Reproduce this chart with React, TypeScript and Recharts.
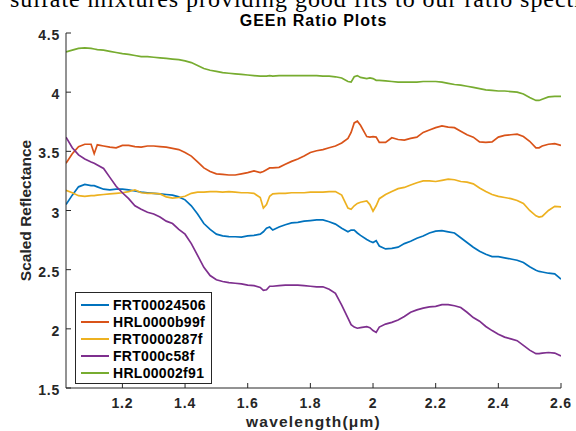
import React from "react";
import { LineChart, Line, XAxis, YAxis, Legend, Label } from "recharts";

// wavelength grid (µm); a few extra points where the spectra have narrow features
const wavelength = [
  1.02, 1.04, 1.06, 1.08, 1.1, 1.11, 1.12, 1.14, 1.16, 1.18,
  1.2, 1.22, 1.24, 1.26, 1.28, 1.3, 1.32, 1.34, 1.36, 1.38,
  1.4, 1.42, 1.44, 1.46, 1.48, 1.5, 1.52, 1.54, 1.56, 1.58,
  1.6, 1.62, 1.64, 1.65, 1.66, 1.67, 1.68, 1.7, 1.72, 1.74,
  1.76, 1.78, 1.8, 1.82, 1.84, 1.86, 1.88, 1.9, 1.92, 1.93,
  1.94, 1.95, 1.96, 1.98, 1.99, 2.0, 2.01, 2.02, 2.04, 2.06,
  2.08, 2.1, 2.12, 2.14, 2.16, 2.18, 2.2, 2.22, 2.24, 2.26,
  2.28, 2.3, 2.32, 2.34, 2.36, 2.38, 2.4, 2.42, 2.44, 2.46,
  2.48, 2.5, 2.52, 2.53, 2.54, 2.56, 2.58, 2.6,
];

const frt00024506 = [
  3.05, 3.13, 3.2, 3.22, 3.21, 3.21, 3.2, 3.18, 3.175, 3.18,
  3.18, 3.175, 3.165, 3.155, 3.15, 3.145, 3.14, 3.135, 3.13, 3.115,
  3.09, 3.04, 2.97, 2.89, 2.84, 2.8, 2.785, 2.78, 2.778, 2.775,
  2.785, 2.79, 2.8, 2.82, 2.85, 2.86, 2.835, 2.86, 2.88, 2.895,
  2.9, 2.91, 2.915, 2.92, 2.92, 2.905, 2.885, 2.85, 2.82, 2.835,
  2.835, 2.81, 2.79, 2.755, 2.74, 2.73, 2.745, 2.7, 2.675, 2.68,
  2.69, 2.72, 2.74, 2.765, 2.785, 2.81, 2.825, 2.83, 2.82, 2.81,
  2.77, 2.73, 2.69, 2.655, 2.63, 2.61, 2.61, 2.6, 2.59, 2.58,
  2.56, 2.525, 2.495, 2.485, 2.48, 2.47, 2.465, 2.42,
];

const hrl0000b99f = [
  3.4, 3.48, 3.54, 3.56, 3.56, 3.48, 3.555, 3.545, 3.535, 3.53,
  3.55, 3.55, 3.54, 3.535, 3.545, 3.545, 3.54, 3.535, 3.525, 3.515,
  3.49, 3.46, 3.41, 3.36, 3.33, 3.31, 3.305, 3.3, 3.3, 3.31,
  3.32, 3.335, 3.32, 3.33, 3.345, 3.36, 3.36, 3.365, 3.39, 3.415,
  3.435, 3.46, 3.49, 3.505, 3.515, 3.53, 3.545, 3.57, 3.61, 3.66,
  3.74, 3.755, 3.72, 3.625, 3.62, 3.625, 3.62, 3.575, 3.575, 3.615,
  3.6, 3.595, 3.61, 3.62, 3.66, 3.68, 3.7, 3.715, 3.705, 3.7,
  3.67, 3.64, 3.62, 3.58, 3.575, 3.58, 3.62, 3.635, 3.64, 3.645,
  3.625, 3.585, 3.53, 3.53, 3.545, 3.56, 3.565, 3.55,
];

const frt0000287f = [
  3.17, 3.15, 3.125, 3.12, 3.125, 3.125, 3.13, 3.135, 3.14, 3.145,
  3.15, 3.16, 3.175, 3.15, 3.145, 3.145, 3.14, 3.115, 3.105, 3.11,
  3.12, 3.145, 3.155, 3.155, 3.16, 3.16, 3.155, 3.16, 3.155, 3.15,
  3.15, 3.145, 3.11, 3.02, 3.05, 3.12, 3.14, 3.145, 3.145, 3.15,
  3.15, 3.15, 3.155, 3.155, 3.155, 3.16, 3.16, 3.13, 3.02, 3.01,
  3.04, 3.06, 3.07, 3.08, 3.05, 2.995, 3.04, 3.1, 3.135, 3.16,
  3.185, 3.195, 3.215, 3.235, 3.25, 3.25, 3.245, 3.255, 3.265, 3.26,
  3.245, 3.24, 3.225, 3.19, 3.16, 3.135, 3.12, 3.11, 3.1, 3.085,
  3.06, 3.0, 2.955, 2.945, 2.95, 3.0, 3.035, 3.03,
];

const frt000c58f = [
  3.62, 3.53, 3.47, 3.435, 3.41, 3.4, 3.385, 3.355, 3.28, 3.205,
  3.15, 3.1, 3.04, 3.01, 2.985, 2.97, 2.945, 2.91, 2.89, 2.84,
  2.8, 2.72, 2.62, 2.52, 2.45, 2.415, 2.4, 2.39, 2.385, 2.38,
  2.37, 2.365, 2.35, 2.325, 2.33, 2.36, 2.36, 2.365, 2.37, 2.37,
  2.37, 2.365, 2.36, 2.355, 2.355, 2.335, 2.3, 2.2, 2.09, 2.035,
  2.015, 2.005, 2.01, 2.018, 2.01, 1.985, 1.97, 2.015, 2.04, 2.055,
  2.075, 2.105, 2.14, 2.16, 2.175, 2.185, 2.19, 2.205, 2.205, 2.195,
  2.18, 2.14, 2.095, 2.065, 2.02, 1.985, 1.955, 1.93, 1.915, 1.9,
  1.86, 1.82, 1.79, 1.79, 1.795, 1.8, 1.795, 1.77,
];

const hrl00002f91 = [
  4.34, 4.355, 4.37, 4.375, 4.37, 4.365, 4.36, 4.355, 4.345, 4.335,
  4.325, 4.32, 4.31, 4.3, 4.3, 4.295, 4.29, 4.285, 4.28, 4.275,
  4.265, 4.25, 4.225, 4.2, 4.185, 4.175, 4.165, 4.16, 4.155, 4.15,
  4.145, 4.14, 4.135, 4.135, 4.135, 4.14, 4.135, 4.14, 4.14, 4.14,
  4.14, 4.14, 4.14, 4.14, 4.135, 4.135, 4.13, 4.12, 4.09, 4.085,
  4.13, 4.14, 4.125, 4.115, 4.12, 4.115, 4.1, 4.1, 4.095, 4.09,
  4.085, 4.085, 4.085, 4.085, 4.09, 4.09, 4.09, 4.085, 4.075, 4.065,
  4.06, 4.05, 4.04, 4.03, 4.02, 4.015, 4.01, 4.01, 4.005, 4.0,
  3.985, 3.955, 3.93, 3.93, 3.94, 3.96, 3.965, 3.965,
];

const seriesNames = ["FRT00024506", "HRL0000b99f", "FRT0000287f", "FRT000c58f", "HRL00002f91"];
const seriesValues = [frt00024506, hrl0000b99f, frt0000287f, frt000c58f, hrl00002f91];
const seriesColors = ["#0072BD", "#D95319", "#EDB120", "#7E2F8E", "#77AC30"];

const xTicks = [1.2, 1.4, 1.6, 1.8, 2, 2.2, 2.4, 2.6];
const yTicks = [1.5, 2, 2.5, 3, 3.5, 4, 4.5];

const data = wavelength.map((wl, i) => {
  const row: Record<string, number> = { wl };
  seriesNames.forEach((name, k) => {
    row[name] = seriesValues[k][i];
  });
  return row;
});

const AXIS = "#262626";
const FONT = "'Liberation Sans', Arial, Helvetica, sans-serif";
const tickFont = {
  fontFamily: FONT,
  fontSize: 14,
  fontWeight: 700,
  fill: AXIS,
  letterSpacing: 0.8,
};

function BottomTick(props: any) {
  const { x, y, payload } = props;
  return (
    <g>
      <line x1={x} y1={y} x2={x} y2={y - 5} stroke={AXIS} />
      <text x={x} y={y + 20} textAnchor="middle" style={tickFont}>
        {payload.value}
      </text>
    </g>
  );
}

function TopTick(props: any) {
  const { x, y } = props;
  return <line x1={x} y1={y} x2={x} y2={y + 5} stroke={AXIS} />;
}

function LeftTick(props: any) {
  const { x, y, payload } = props;
  return (
    <g>
      <line x1={x} y1={y} x2={x + 5} y2={y} stroke={AXIS} />
      <text x={x - 6} y={y + 7} textAnchor="end" style={tickFont}>
        {payload.value}
      </text>
    </g>
  );
}

function RightTick(props: any) {
  const { x, y } = props;
  return <line x1={x} y1={y} x2={x - 5} y2={y} stroke={AXIS} />;
}

function XTitle(props: any) {
  const vb = props.viewBox;
  return (
    <text
      x={vb.x + vb.width / 2}
      y={vb.y + 39}
      textAnchor="middle"
      style={{ fontFamily: FONT, fontSize: 15.5, fontWeight: 700, fill: AXIS, letterSpacing: 1.2 }}
    >
      wavelength(μm)
    </text>
  );
}

function YTitle(props: any) {
  const vb = props.viewBox;
  const cx = vb.x + 31;
  const cy = vb.y + vb.height / 2;
  return (
    <text
      x={cx}
      y={cy}
      transform={`rotate(-90 ${cx} ${cy})`}
      textAnchor="middle"
      style={{ fontFamily: FONT, fontSize: 15.5, fontWeight: 700, fill: AXIS }}
    >
      Scaled Reflectance
    </text>
  );
}

function LegendBox() {
  return (
    <div
      style={{
        width: 137,
        boxSizing: "border-box",
        border: `1px solid ${AXIS}`,
        background: "#fff",
        padding: "3px 0 2px 5px",
        fontFamily: FONT,
        fontSize: 14,
        fontWeight: 700,
        letterSpacing: 0.3,
        color: "#000",
      }}
    >
      {seriesNames.map((name, k) => (
        <div key={name} style={{ display: "flex", alignItems: "center", height: 17, whiteSpace: "nowrap" }}>
          <span
            style={{
              display: "inline-block",
              width: 28,
              borderTop: `2px solid ${seriesColors[k]}`,
              marginRight: 4,
            }}
          />
          <span>{name}</span>
        </div>
      ))}
    </div>
  );
}

export default function App() {
  return (
    <div
      style={{
        position: "absolute",
        left: 0,
        top: 0,
        width: 576,
        height: 431,
        background: "#fff",
        overflow: "hidden",
      }}
    >
      <div
        style={{
          position: "absolute",
          left: 10,
          top: -13,
          fontFamily: "'Liberation Serif', 'Times New Roman', serif",
          fontSize: 24,
          lineHeight: "24px",
          letterSpacing: 0.95,
          whiteSpace: "nowrap",
          color: "#000",
        }}
      >
        sulfate mixtures providing good fits to our ratio spectra
      </div>
      <div
        style={{
          position: "absolute",
          left: 0,
          top: 13,
          width: 627,
          textAlign: "center",
          fontFamily: FONT,
          fontSize: 16,
          lineHeight: "16px",
          fontWeight: 700,
          letterSpacing: 1,
          color: "#000",
          zIndex: 2,
        }}
      >
        GEEn Ratio Plots
      </div>
      <LineChart
        width={576}
        height={431}
        data={data}
        margin={{ top: 33, right: 15, bottom: 0, left: 0 }}
      >
        <XAxis
          dataKey="wl"
          type="number"
          domain={[1.02, 2.6]}
          allowDataOverflow
          ticks={xTicks}
          interval={0}
          tickSize={0}
          tickMargin={0}
          tickLine={false}
          axisLine={{ stroke: AXIS }}
          tick={<BottomTick />}
          height={43}
        >
          <Label content={<XTitle />} />
        </XAxis>
        <XAxis
          xAxisId="top"
          dataKey="wl"
          type="number"
          orientation="top"
          domain={[1.02, 2.6]}
          allowDataOverflow
          ticks={xTicks}
          interval={0}
          tickSize={0}
          tickMargin={0}
          tickLine={false}
          axisLine={{ stroke: AXIS }}
          tick={<TopTick />}
          height={0}
        />
        <YAxis
          type="number"
          domain={[1.5, 4.5]}
          allowDataOverflow
          ticks={yTicks}
          interval={0}
          tickSize={0}
          tickMargin={0}
          tickLine={false}
          axisLine={{ stroke: AXIS }}
          tick={<LeftTick />}
          width={66}
        >
          <Label content={<YTitle />} />
        </YAxis>
        <YAxis
          yAxisId="right"
          orientation="right"
          type="number"
          domain={[1.5, 4.5]}
          allowDataOverflow
          ticks={yTicks}
          interval={0}
          tickSize={0}
          tickMargin={0}
          tickLine={false}
          axisLine={{ stroke: AXIS }}
          tick={<RightTick />}
          width={0}
        />
        {seriesNames.map((name, k) => (
          <Line
            key={name}
            type="linear"
            dataKey={name}
            stroke={seriesColors[k]}
            strokeWidth={1.7}
            dot={false}
            isAnimationActive={false}
          />
        ))}
        <Legend
          layout="horizontal"
          verticalAlign="middle"
          align="center"
          wrapperStyle={{ left: 75, top: 292, width: 137, height: 90 }}
          content={() => <LegendBox />}
        />
      </LineChart>
    </div>
  );
}
